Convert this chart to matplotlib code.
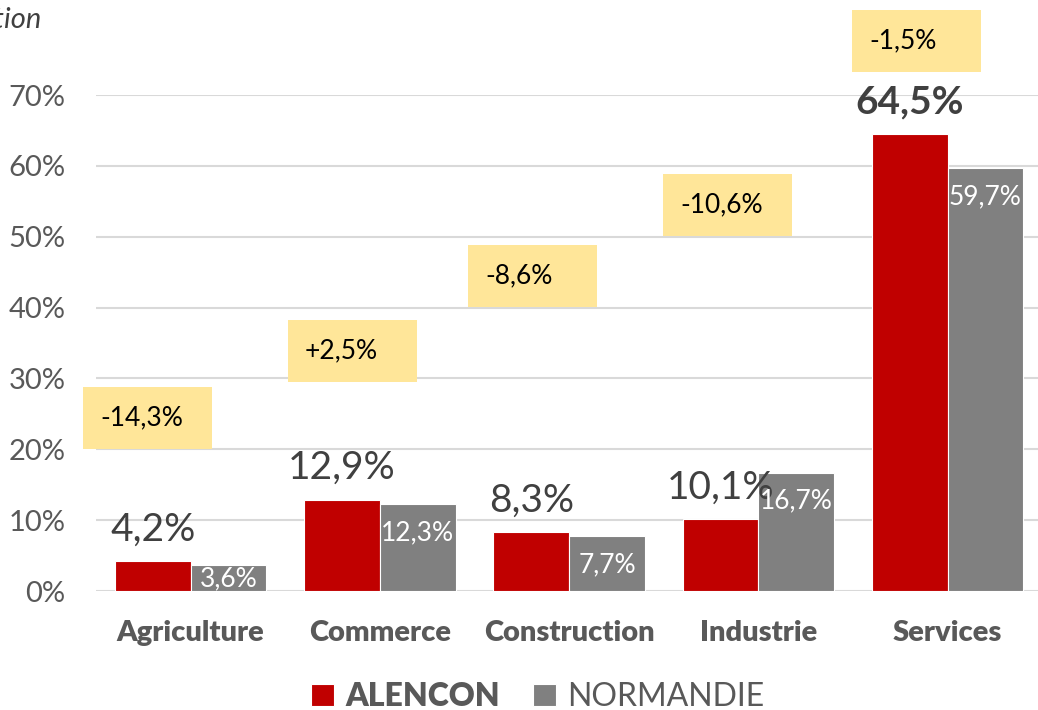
import numpy as np
import matplotlib.pyplot as plt
from matplotlib.patches import Rectangle

plt.rcParams['font.family'] = ['Lato', 'DejaVu Sans']

# Chart data
categories = ['Agriculture', 'Commerce', 'Construction', 'Industrie', 'Services']
alencon = [4.2, 12.9, 8.3, 10.1, 64.5]
normandie = [3.6, 12.3, 7.7, 16.7, 59.7]
evolution = ['-14,3%', '+2,5%', '-8,6%', '-10,6%', '-1,5%']
# placement of each yellow evolution box: vertical centre (% units) and
# left edge offset from the red bar centre (pixels)
box_y = [24.4, 33.9, 44.5, 54.5, 77.6]
box_dx = [-69.6, -53.9, -63.2, -57.4, -57.6]

RED = '#C00000'
GREY = '#808080'
YELLOW = '#FFE699'
TXT = '#595959'
DARK = '#404040'

fig = plt.figure(figsize=(10.38, 7.10), dpi=100)
ax = fig.add_axes([96 / 1038, 119 / 710, 942 / 1038, 496 / 710])

x = np.arange(len(categories))
w = 0.4
ax.bar(x - w / 2, alencon, w, color=RED, edgecolor='white', linewidth=0.8, zorder=3, label='ALENCON')
ax.bar(x + w / 2, normandie, w, color=GREY, edgecolor='white', linewidth=0.8, zorder=3, label='NORMANDIE')

cat_px = 189.25  # pixels per category
ax.set_xlim(-0.5, -0.5 + 942 / cat_px)
ax.set_ylim(0, 70)
ax.set_yticks(np.arange(0, 71, 10))
ax.set_yticklabels([f'{v}%' for v in range(0, 71, 10)])
ax.set_xticks(x)
ax.set_xticklabels(categories, fontweight='heavy')
ax.tick_params(axis='y', length=0, pad=22, labelsize=21, labelcolor=TXT)
ax.tick_params(axis='x', length=0, pad=21, labelsize=21, labelcolor=TXT)
ax.grid(axis='y', color='#D9D9D9', linewidth=1.5, zorder=0)
for s in ax.spines.values():
    s.set_visible(False)

# value labels
for i, v in enumerate(alencon):
    bold = 'bold' if i == len(alencon) - 1 else 'normal'
    ax.text(x[i] - w / 2, v + 2.9, f'{v:.1f}%'.replace('.', ','), ha='center', va='baseline',
            fontsize=28, color=DARK, fontweight=bold, zorder=5)
for i, v in enumerate(normandie):
    ax.text(x[i] + w / 2, max(v - 5.1, 0.7), f'{v:.1f}%'.replace('.', ','), ha='center', va='baseline',
            fontsize=19, color='white', zorder=5)

# evolution boxes
bw = 129 / cat_px
bh = 62 / 7.086
for i, lab in enumerate(evolution):
    left = x[i] - w / 2 + box_dx[i] / cat_px
    ax.add_patch(Rectangle((left, box_y[i] - bh / 2), bw, bh, facecolor=YELLOW,
                           edgecolor='none', clip_on=False, zorder=4))
    ax.text(left + 17 / cat_px, box_y[i], lab, ha='left', va='center',
            fontsize=19, color='black', zorder=5, clip_on=False)

fig.text(42 / 1038, 1 - 28 / 710, 'Evolution', ha='right', va='baseline',
         fontsize=21, style='italic', color=DARK)

leg = fig.legend(loc='center', bbox_to_anchor=(0.518, 13 / 710), ncol=2, frameon=False,
                 fontsize=23, handlelength=0.7, handleheight=0.7, columnspacing=1.05,
                 handletextpad=0.35, labelcolor=TXT)
leg.get_texts()[0].set_fontweight('heavy')

fig.savefig('out.png', dpi=100)
